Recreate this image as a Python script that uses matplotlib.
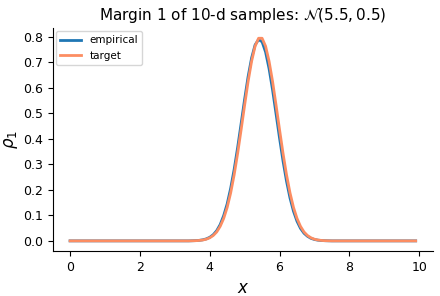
import matplotlib
matplotlib.use('Agg')
import matplotlib.pyplot as plt
from matplotlib.ticker import MultipleLocator
import numpy as np

AZUL = '#1f77b4'
LARANJA = '#fc8d62'

# grade de x (0.0 ... 9.9)
x = np.round(np.arange(0, 100) * 0.1, 1)

empirico_meio = [
    0.0005, 0.001, 0.0021, 0.0041, 0.0078, 0.014, 0.024, 0.040, 0.064, 0.099,
    0.145, 0.206, 0.280, 0.366, 0.460, 0.555, 0.644, 0.717, 0.768, 0.789,
    0.780, 0.740, 0.675, 0.592, 0.498, 0.403, 0.313, 0.234, 0.168, 0.116,
    0.077, 0.049, 0.030, 0.018, 0.010, 0.0054, 0.0028, 0.0014, 0.0007, 0.0003,
]
alvo_meio = [
    0.0004, 0.0008, 0.0017, 0.0034, 0.0065, 0.012, 0.021, 0.035, 0.057, 0.088,
    0.131, 0.188, 0.259, 0.343, 0.436, 0.532, 0.625, 0.704, 0.763, 0.794,
    0.794, 0.763, 0.704, 0.625, 0.532, 0.436, 0.343, 0.259, 0.188, 0.131,
    0.088, 0.057, 0.035, 0.021, 0.012, 0.0065, 0.0034, 0.0017, 0.0008, 0.0004,
]
inicio = 35  # indice de x = 3.5

empirico = np.zeros(len(x))
empirico[inicio:inicio + len(empirico_meio)] = empirico_meio
alvo = np.zeros(len(x))
alvo[inicio:inicio + len(alvo_meio)] = alvo_meio

fig, ax = plt.subplots(figsize=(4.4, 2.96), dpi=100)
fig.subplots_adjust(left=0.12, right=0.984, bottom=0.152, top=0.905)

ax.plot(x, empirico, color=AZUL, linewidth=2, label='empirical')
ax.plot(x, alvo, color=LARANJA, linewidth=2, label='target')

ax.spines['top'].set_visible(False)
ax.spines['right'].set_visible(False)
ax.yaxis.set_major_locator(MultipleLocator(0.1))
ax.tick_params(labelsize=9)
ax.set_xlabel('$x$', fontsize=12)
ax.set_ylabel(r'$\rho_1$', fontsize=12, labelpad=2)
ax.set_title(r'Margin 1 of 10-d samples: $\mathcal{N}(5.5, 0.5)$', fontsize=11)
ax.legend(loc='upper left', fontsize=7.5, borderaxespad=0.3)

fig.savefig('out.png', dpi=100)
plt.close(fig)
